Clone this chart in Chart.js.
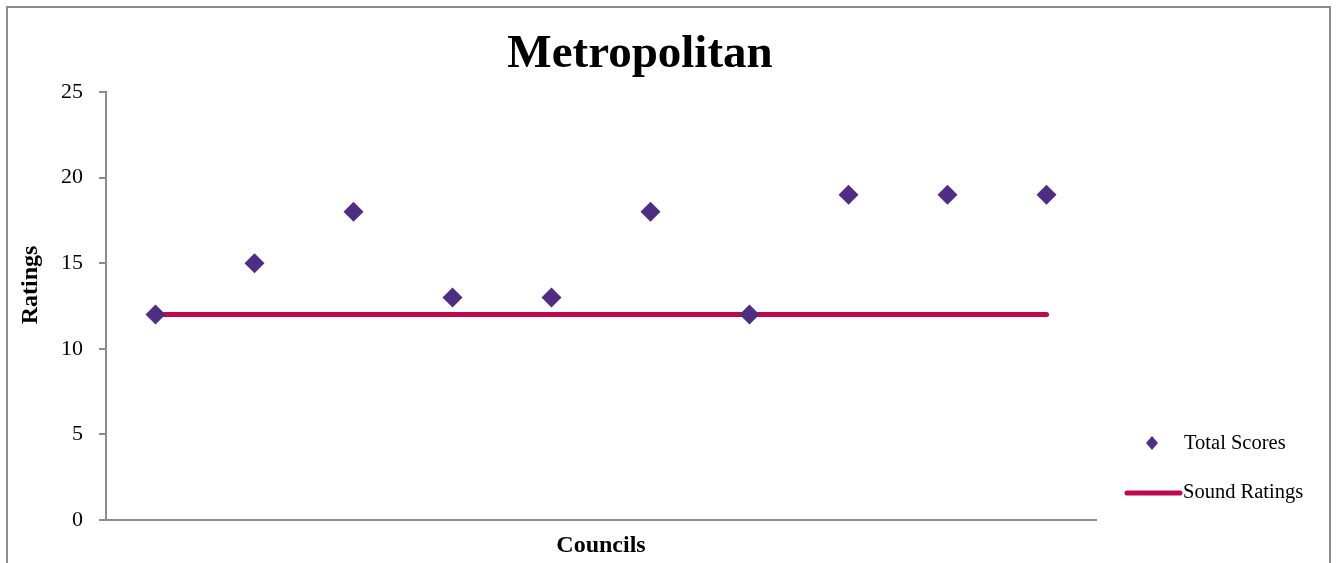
<!DOCTYPE html>
<html>
<head>
<meta charset="utf-8">
<title>Metropolitan</title>
<script src="https://cdn.jsdelivr.net/npm/chart.js@4"></script>
<style>
  html, body { margin: 0; padding: 0; background: #fff; }
  #wrap { width: 1336px; height: 563px; position: relative; }
</style>
</head>
<body>
<div id="wrap"><canvas id="myChart"></canvas></div>
<script>
const councils = ['1', '2', '3', '4', '5', '6', '7', '8', '9', '10'];
const totalScores = [12, 15, 18, 13, 13, 18, 12, 19, 19, 19];
const soundRatings = [12, 12, 12, 12, 12, 12, 12, 12, 12, 12];
const yTicks = [0, 5, 10, 15, 20, 25];

const serif = "'Liberation Serif', 'DejaVu Serif', serif";
const purple = '#502D84';
const crimson = '#C2074E';

// frame, title, y axis title and legend drawn by hand
const decorations = {
  id: 'decorations',
  afterDraw(chart) {
    const ctx = chart.ctx;
    ctx.save();
    ctx.strokeStyle = '#8c8c8c';
    ctx.lineWidth = 2;
    ctx.strokeRect(7, 7, 1323, 620);

    ctx.fillStyle = '#000';
    ctx.font = 'bold 47px ' + serif;
    ctx.textAlign = 'center';
    ctx.textBaseline = 'middle';
    ctx.fillText('Metropolitan', 640, 55);

    ctx.save();
    ctx.translate(31, 285);
    ctx.rotate(-Math.PI / 2);
    ctx.font = 'bold 24px ' + serif;
    ctx.fillText('Ratings', 0, 0);
    ctx.restore();

    const ds = chart.data.datasets;
    ctx.font = '20.5px ' + serif;
    ctx.textAlign = 'left';
    // Total Scores
    ctx.fillStyle = ds[0].backgroundColor;
    ctx.beginPath();
    ctx.moveTo(1152, 436); ctx.lineTo(1158, 443); ctx.lineTo(1152, 450); ctx.lineTo(1146, 443);
    ctx.closePath();
    ctx.fill();
    ctx.fillStyle = '#000';
    ctx.fillText(ds[0].label, 1184, 444);
    // Sound Ratings
    ctx.strokeStyle = ds[1].borderColor;
    ctx.lineWidth = 5;
    ctx.lineCap = 'round';
    ctx.beginPath();
    ctx.moveTo(1127, 493); ctx.lineTo(1180, 493);
    ctx.stroke();
    ctx.fillText(ds[1].label, 1183, 493);
    ctx.restore();
  }
};

const data = {
  labels: councils,
  datasets: [{
    label: 'Total Scores',
    data: totalScores,
    showLine: false,
    pointStyle: 'rectRot',
    pointRadius: 10,
    pointHoverRadius: 10,
    backgroundColor: purple,
    borderColor: purple,
    borderWidth: 0,
    order: 0
  }, {
    label: 'Sound Ratings',
    data: soundRatings,
    borderColor: crimson,
    backgroundColor: crimson,
    borderWidth: 5,
    borderCapStyle: 'round',
    pointRadius: 0,
    order: 1
  }]
};

const config = {
  type: 'line',
  data: data,
  options: {
    responsive: true,
    maintainAspectRatio: false,
    animation: false,
    layout: { padding: { left: 7, right: 240, top: 92, bottom: 0 } },
    plugins: {
      legend: { display: false },
      tooltip: { enabled: false }
    },
    scales: {
      x: {
        offset: true,
        grid: { display: false },
        border: { display: true, color: '#8c8c8c', width: 2 },
        ticks: { display: false },
        title: {
          display: true,
          text: 'Councils',
          color: '#000',
          font: { family: serif, size: 24, weight: 'bold' },
          padding: { top: 0, bottom: 3 }
        },
        afterFit(scale) { scale.height = 43; }
      },
      y: {
        min: 0,
        max: 25,
        afterBuildTicks(scale) { scale.ticks = yTicks.map(v => ({ value: v })); },
        grid: { drawOnChartArea: false, drawTicks: true, tickLength: 7, color: '#8c8c8c', lineWidth: 2 },
        border: { display: true, color: '#8c8c8c', width: 2 },
        ticks: { color: '#000', padding: 16, font: { family: serif, size: 22 } },
        afterFit(scale) { scale.width = 99; }
      }
    }
  },
  plugins: [decorations]
};

const myChart = new Chart(document.getElementById('myChart'), config);
</script>
</body>
</html>
